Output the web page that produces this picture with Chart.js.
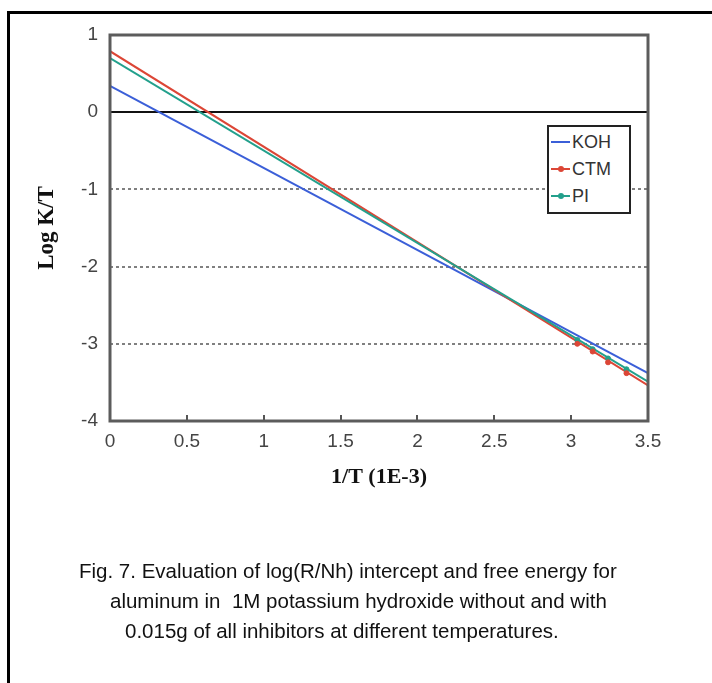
<!DOCTYPE html>
<html>
<head>
<meta charset="utf-8">
<script src="https://cdn.jsdelivr.net/npm/chart.js@4.4.1/dist/chart.umd.min.js"></script>
<style>
html, body { margin: 0; padding: 0; background: #fff; }
body { width: 712px; height: 683px; position: relative; overflow: hidden; font-family: "Liberation Sans", Arial, sans-serif; }
#frame { position: absolute; left: 7px; top: 11px; width: 740px; height: 720px; border: 3px solid #000; box-sizing: border-box; }
#chart { position: absolute; left: 0; top: 0; }
#legend { position: absolute; left: 547px; top: 125px; width: 84px; height: 89px; border: 2px solid #222; box-sizing: border-box; background: #fff; }
.row { position: absolute; left: 2px; height: 20px; font-size: 18px; color: #333; line-height: 20px; }
.row .ln { position: absolute; left: 0; top: 9px; width: 19px; height: 2px; }
.row .dot { position: absolute; left: 7px; top: 7px; width: 6px; height: 6px; border-radius: 3px; }
.row .tx { position: absolute; left: 21px; top: 0; white-space: nowrap; }
.cap { position: absolute; font-size: 20.5px; line-height: 24px; color: #111; white-space: pre; }
</style>
</head>
<body>
<div id="frame"></div>
<canvas id="chart" width="712" height="683"></canvas>
<div id="legend"></div>
<div class="cap" style="left:79px;top:559px">Fig. 7. Evaluation of log(R/Nh) intercept and free energy for</div>
<div class="cap" style="left:110px;top:589px">aluminum in  1M potassium hydroxide without and with</div>
<div class="cap" style="left:125px;top:619px">0.015g of all inhibitors at different temperatures.</div>
<script>
// series names and colours
const seriesNames = ['KOH', 'CTM', 'PI'];
const seriesColors = ['#3b5fd8', '#dc4636', '#23a08c'];
const showMarker = [false, true, true];

// fitted lines, read at x = 0 and x = 3.5
const fitX = [0, 3.5];
const kohFit = [0.34, -3.38];
const ctmFit = [0.79, -3.54];
const piFit = [0.70, -3.49];

// measured points (1/T in 1E-3)
const invT = [3.04, 3.14, 3.24, 3.36];
const ctmPts = [-3.00, -3.10, -3.24, -3.38];
const piPts = [-2.95, -3.07, -3.19, -3.33];

const xTicks = [0, 0.5, 1, 1.5, 2, 2.5, 3, 3.5];
const xTickLabels = ['0', '0.5', '1', '1.5', '2', '2.5', '3', '3.5'];
const yTicks = [1, 0, -1, -2, -3, -4];

const toPts = (xs, ys) => xs.map((x, i) => ({ x: x, y: ys[i] }));

const fits = [kohFit, ctmFit, piFit];
const pts = [null, ctmPts, piPts];

const datasets = [];
fits.forEach((f, i) => {
  datasets.push({
    label: seriesNames[i],
    data: toPts(fitX, f),
    showLine: true,
    borderColor: seriesColors[i],
    borderWidth: 2,
    pointRadius: 0,
    order: 3 - i
  });
});
pts.forEach((p, i) => {
  if (!p) return;
  datasets.push({
    label: seriesNames[i] + ' data',
    data: toPts(invT, p),
    showLine: false,
    backgroundColor: seriesColors[i],
    borderColor: seriesColors[i],
    pointRadius: 2.5,
    order: 0
  });
});

// legend built from the series arrays
const legend = document.getElementById('legend');
seriesNames.forEach((name, i) => {
  const row = document.createElement('div');
  row.className = 'row';
  row.style.top = (5 + i * 27) + 'px';
  row.innerHTML = '<span class="ln" style="background:' + seriesColors[i] + '"></span>' +
    (showMarker[i] ? '<span class="dot" style="background:' + seriesColors[i] + '"></span>' : '') +
    '<span class="tx">' + name + '</span>';
  legend.appendChild(row);
});

const framePlugin = {
  id: 'frame',
  beforeDatasetsDraw(chart) {
    const c = chart.ctx, a = chart.chartArea, y = chart.scales.y, x = chart.scales.x;
    c.save();
    // dotted grid
    c.strokeStyle = '#808080';
    c.lineWidth = 2;
    c.setLineDash([3, 3]);
    yTicks.forEach(v => {
      if (v === 0 || v === 1 || v === -4) return;
      const py = Math.round(y.getPixelForValue(v));
      c.beginPath(); c.moveTo(a.left, py); c.lineTo(a.right, py); c.stroke();
    });
    c.setLineDash([]);
    // zero line
    c.strokeStyle = '#111';
    c.lineWidth = 2;
    const p0 = Math.round(y.getPixelForValue(0));
    c.beginPath(); c.moveTo(a.left, p0); c.lineTo(a.right, p0); c.stroke();
    // inner tick marks on x axis
    c.strokeStyle = '#555';
    c.lineWidth = 2;
    xTicks.forEach(v => {
      const px = Math.round(x.getPixelForValue(v));
      c.beginPath(); c.moveTo(px, a.bottom); c.lineTo(px, a.bottom - 6); c.stroke();
    });
    c.restore();
  },
  afterDraw(chart) {
    const c = chart.ctx, a = chart.chartArea;
    c.save();
    c.strokeStyle = '#5c5c5c';
    c.lineWidth = 3;
    c.strokeRect(a.left, a.top, a.right - a.left, a.bottom - a.top);
    c.restore();
  }
};

new Chart(document.getElementById('chart'), {
  type: 'scatter',
  data: { datasets: datasets },
  plugins: [framePlugin],
  options: {
    responsive: false,
    animation: false,
    layout: { padding: { left: 0, top: 35, right: 64, bottom: 187 } },
    plugins: { legend: { display: false }, tooltip: { enabled: false } },
    scales: {
      x: {
        type: 'linear', min: 0, max: 3.5,
        afterBuildTicks: s => { s.ticks = xTicks.map(v => ({ value: v })); },
        afterFit: s => { s.height = 75; },
        grid: { display: false, drawTicks: false },
        border: { display: false },
        ticks: { padding: 9, color: '#444', font: { family: 'Liberation Sans', size: 19 }, maxRotation: 0,
          callback: (v, i) => xTickLabels[i] },
        title: { display: true, text: '1/T (1E-3)', color: '#111', padding: { top: 0, bottom: 5 },
          font: { family: 'Liberation Serif', size: 22, weight: 'bold' } }
      },
      y: {
        type: 'linear', min: -4, max: 1,
        afterBuildTicks: s => { s.ticks = yTicks.map(v => ({ value: v })); },
        afterFit: s => { s.width = 110; },
        grid: { display: false, drawTicks: false },
        border: { display: false },
        ticks: { padding: 12, color: '#444', font: { family: 'Liberation Sans', size: 19 } },
        title: { display: true, text: 'Log K/T', color: '#111', padding: { top: 33, bottom: 0 },
          font: { family: 'Liberation Serif', size: 23, weight: 'bold' } }
      }
    }
  }
});
</script>
</body>
</html>
